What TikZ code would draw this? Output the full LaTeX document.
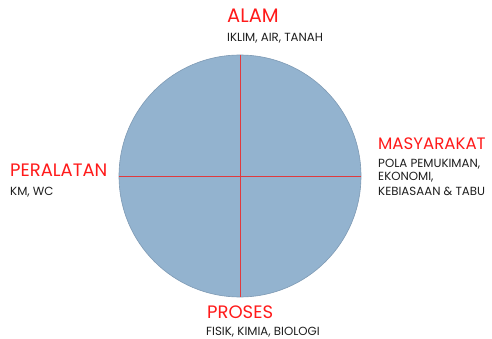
\documentclass[tikz,border=0pt]{standalone}
\usepackage{fontspec}
\setmainfont{Poppins}
\usepackage{xcolor}
\usetikzlibrary{positioning}

\definecolor{diskfill}{HTML}{93B3CF}
\definecolor{diskline}{HTML}{7E9AB4}
\definecolor{axisred}{HTML}{E03A3E}
\definecolor{headred}{HTML}{FF1A1A}
\definecolor{subgray}{HTML}{1E1E1E}

\tikzset{
  head/.style={font=\fontsize{18}{18}\selectfont, text=headred, inner sep=0pt, anchor=base west},
  sub/.style={font=\fontsize{11.8}{14}\selectfont, text=subgray, inner sep=0pt, anchor=base west, align=left},
  axis/.style={draw=axisred, line width=0.8pt}
}

\begin{document}
\begin{tikzpicture}[x=1pt, y=-1pt]
  \useasboundingbox (0,0) rectangle (492,339);

  % the disk
  \node[circle, draw=diskline, fill=diskfill, line width=0.6pt, minimum size=242pt, inner sep=0pt] (disk) at (240,176) {};
  \draw[axis] (disk.north) -- (disk.south);
  \draw[axis] (disk.west) -- (disk.east);

  % top
  \node[head, font=\fontsize{19.5}{19.5}\selectfont] (alam) at (227,23) {ALAM};
  \node[sub] (alamsub) at (227,42) {IKLIM, AIR, TANAH};

  % left
  \node[head] (alat) at (10,177) {PERALATAN};
  \node[sub] (alatsub) at (10,195) {KM, WC};

  % right
  \node[head, font=\fontsize{16.6}{16.6}\selectfont] (masy) at (378,150) {MASYARAKAT};
  \node[sub] (masysub) at (378,195) {POLA PEMUKIMAN,\\EKONOMI,\\KEBIASAAN \& TABU};

  % bottom
  \node[head] (proses) at (207,318) {PROSES};
  \node[sub] (prosessub) at (206,335) {FISIK, KIMIA, BIOLOGI};
\end{tikzpicture}
\end{document}
